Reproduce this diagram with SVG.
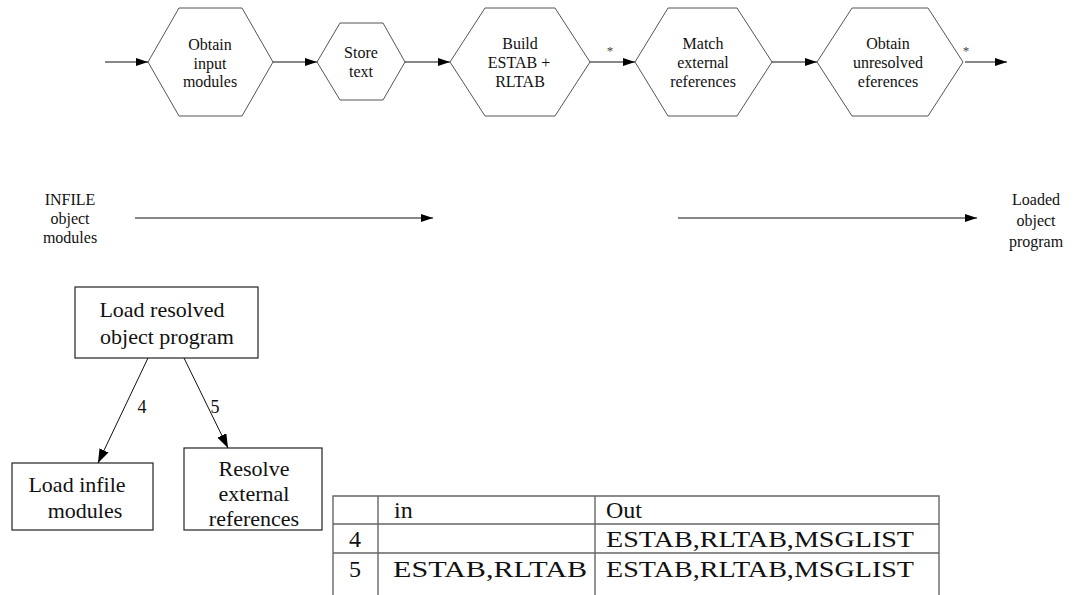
<svg xmlns="http://www.w3.org/2000/svg" width="1075" height="595" viewBox="0 0 1075 595">
  <style>
    .hex { fill: #ffffff; stroke: #555555; stroke-width: 1; }
    .box { fill: #ffffff; stroke: #222222; stroke-width: 1.2; }
    .flow { stroke: #111111; stroke-width: 1; fill: none; }
    text { font-family: 'Liberation Serif', 'DejaVu Serif', Tinos, serif; fill: #111111; }
    .t16 { font-size: 16px; text-anchor: middle; }
    .t22 { font-size: 22px; text-anchor: middle; }
    .star { font-size: 13px; fill: #444444; text-anchor: middle; }
    .tab { font-size: 24px; }
    .grid { stroke: #666666; stroke-width: 1.4; fill: none; }
  </style>
  <defs>
    <marker id="ah" viewBox="0 0 12 8" refX="12" refY="4" markerWidth="12" markerHeight="8" markerUnits="userSpaceOnUse" orient="auto">
      <path d="M0,0 L12,4 L0,8 Z" fill="#000000"/>
    </marker>
    <marker id="ahBig" viewBox="0 0 14 10" refX="14" refY="5" markerWidth="14" markerHeight="10" markerUnits="userSpaceOnUse" orient="auto">
      <path d="M0,0 L14,5 L0,10 Z" fill="#000000"/>
    </marker>
  </defs>

  <!-- top process chain -->
  <g id="obtain-input">
    <polygon class="hex" points="148,62 179,8 242,8 273,62 242,116 179,116"/>
    <text class="t16" x="210" y="50">Obtain</text>
    <text class="t16" x="210" y="68.5">input</text>
    <text class="t16" x="210" y="87">modules</text>
  </g>
  <g id="store-text">
    <polygon class="hex" points="317,62 340,23 383,23 405,62 383,100 340,100"/>
    <text class="t16" x="361" y="58">Store</text>
    <text class="t16" x="361" y="77">text</text>
  </g>
  <g id="build-tables">
    <polygon class="hex" points="450,62 485,8 555,8 590,62 555,116 485,116"/>
    <text class="t16" x="520" y="49">Build</text>
    <text class="t16" x="519" y="68">ESTAB +</text>
    <text class="t16" x="520" y="87">RLTAB</text>
  </g>
  <g id="match-refs">
    <polygon class="hex" points="635,62 668,8 737,8 772,62 737,116 668,116"/>
    <text class="t16" x="703" y="49">Match</text>
    <text class="t16" x="703" y="68">external</text>
    <text class="t16" x="703" y="87">references</text>
  </g>
  <g id="obtain-unresolved">
    <polygon class="hex" points="817,62 852,8 928,8 963,62 928,116 852,116"/>
    <text class="t16" x="888" y="49">Obtain</text>
    <text class="t16" x="888" y="68">unresolved</text>
    <text class="t16" x="888" y="87">eferences</text>
  </g>

  <!-- data flow endpoints -->
  <g id="infile">
    <text class="t16" x="70" y="205">INFILE</text>
    <text class="t16" x="70" y="224">object</text>
    <text class="t16" x="70" y="243">modules</text>
  </g>
  <g id="loaded">
    <text class="t16" x="1036" y="205">Loaded</text>
    <text class="t16" x="1036" y="226">object</text>
    <text class="t16" x="1036" y="247">program</text>
  </g>

  <!-- structure chart -->
  <g id="load-resolved">
    <rect class="box" x="75" y="287" width="183" height="71"/>
    <text class="t22" x="162" y="317">Load  resolved</text>
    <text class="t22" x="167" y="344">object program</text>
  </g>
  <g id="load-infile">
    <rect class="box" x="12" y="463" width="141" height="67"/>
    <text class="t22" x="77" y="492">Load infile</text>
    <text class="t22" x="85" y="518">modules</text>
  </g>
  <g id="resolve-refs">
    <rect class="box" x="184" y="448" width="138" height="82"/>
    <text class="t22" x="254" y="476">Resolve</text>
    <text class="t22" x="254" y="501">external</text>
    <text class="t22" x="254" y="526">references</text>
  </g>

  <g id="connectors">
    <line class="flow" x1="105" y1="62" x2="148" y2="62" marker-end="url(#ah)"/>
    <line class="flow" x1="273" y1="62" x2="317" y2="62" marker-end="url(#ah)"/>
    <line class="flow" x1="405" y1="62" x2="450" y2="62" marker-end="url(#ah)"/>
    <line class="flow" x1="590" y1="62" x2="635" y2="62" marker-end="url(#ah)"/>
    <text class="star" x="610" y="55">*</text>
    <line class="flow" x1="772" y1="62" x2="817" y2="62" marker-end="url(#ah)"/>
    <line class="flow" x1="965" y1="62" x2="1007" y2="62" marker-end="url(#ah)"/>
    <text class="star" x="966" y="55">*</text>

    <line class="flow" x1="135" y1="218" x2="433" y2="218" marker-end="url(#ah)"/>
    <line class="flow" x1="678" y1="218" x2="977" y2="218" marker-end="url(#ah)"/>

    <line class="flow" x1="148" y1="358" x2="98" y2="463" marker-end="url(#ahBig)"/>
    <text class="t16" x="142" y="413" style="font-size:18px">4</text>
    <line class="flow" x1="184" y1="358" x2="228" y2="448" marker-end="url(#ahBig)"/>
    <text class="t16" x="215" y="413" style="font-size:18px">5</text>
  </g>

  <!-- data couple table -->
  <g id="couple-table">
    <path class="grid" d="M333,595 V496 H939 V595 M378,496 V595 M595,496 V595 M333,524 H939 M333,553 H939"/>
    <text class="tab" x="394" y="518">in</text>
    <text class="tab" x="606" y="518">Out</text>
    <text class="tab" x="349" y="547">4</text>
    <text class="tab" x="606" y="547" textLength="308" lengthAdjust="spacingAndGlyphs">ESTAB,RLTAB,MSGLIST</text>
    <text class="tab" x="349" y="577">5</text>
    <text class="tab" x="393" y="577" textLength="194" lengthAdjust="spacingAndGlyphs">ESTAB,RLTAB</text>
    <text class="tab" x="606" y="577" textLength="308" lengthAdjust="spacingAndGlyphs">ESTAB,RLTAB,MSGLIST</text>
  </g>
</svg>
